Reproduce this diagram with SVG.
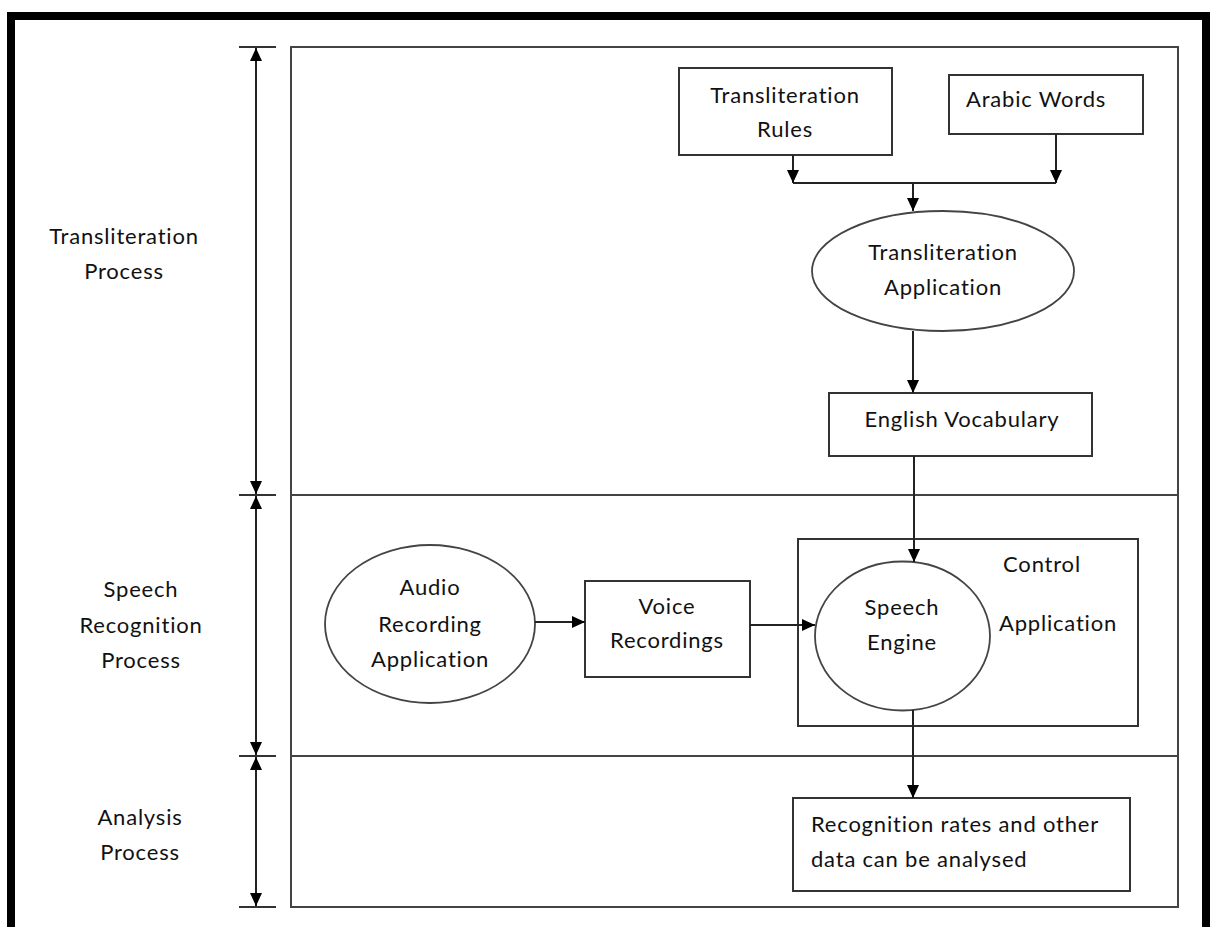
<svg xmlns="http://www.w3.org/2000/svg" width="1210" height="927" viewBox="0 0 1210 927">
  <style>
    .frame { fill: none; stroke: #000; stroke-width: 8; }
    .panel { fill: none; stroke: #444; stroke-width: 2; }
    .box { fill: #fff; stroke: #333; stroke-width: 2; }
    .oval { fill: #fff; stroke: #444; stroke-width: 1.8; }
    .line { fill: none; stroke: #222; stroke-width: 2; }
    .tick { fill: none; stroke: #333; stroke-width: 2; }
    text { font-family: Lato, "Open Sans", "Liberation Sans", sans-serif; font-size: 22px; letter-spacing: 0.8px; fill: #111; font-variant-ligatures: none; font-feature-settings: "liga" 0, "clig" 0; }
    .c { text-anchor: middle; }
  </style>
  <defs>
    <marker id="arrow" viewBox="0 0 13 12" refX="13" refY="6" markerWidth="13" markerHeight="12" markerUnits="userSpaceOnUse" orient="auto-start-reverse">
      <path d="M0,0 L13,6 L0,12 z" fill="#000"/>
    </marker>
  </defs>

  <rect width="1210" height="927" fill="#fff"/>
  <!-- outer frame (open at bottom) -->
  <path class="frame" d="M11,927 V16 H1206 V927"/>

  <!-- process panel and stage separators -->
  <rect class="panel" x="291" y="47" width="887" height="860"/>
  <line class="panel" x1="291" y1="495" x2="1178" y2="495"/>
  <line class="panel" x1="291" y1="756" x2="1178" y2="756"/>

  <!-- stage extent ruler -->
  <g id="stage-ruler">
    <line class="tick" x1="239" y1="47" x2="276" y2="47"/>
    <line class="tick" x1="239" y1="495" x2="276" y2="495"/>
    <line class="tick" x1="239" y1="756" x2="276" y2="756"/>
    <line class="tick" x1="239" y1="907" x2="276" y2="907"/>
    <line class="line" x1="256" y1="48" x2="256" y2="494" marker-start="url(#arrow)" marker-end="url(#arrow)"/>
    <line class="line" x1="256" y1="496" x2="256" y2="755" marker-start="url(#arrow)" marker-end="url(#arrow)"/>
    <line class="line" x1="256" y1="757" x2="256" y2="906" marker-start="url(#arrow)" marker-end="url(#arrow)"/>
  </g>

  <!-- stage labels -->
  <g id="label-transliteration">
    <text class="c" x="124" y="244">Transliteration</text>
    <text class="c" x="124" y="279">Process</text>
  </g>
  <g id="label-speech">
    <text class="c" x="141" y="597">Speech</text>
    <text class="c" x="141" y="633">Recognition</text>
    <text class="c" x="141" y="668">Process</text>
  </g>
  <g id="label-analysis">
    <text class="c" x="140" y="825">Analysis</text>
    <text class="c" x="140" y="860">Process</text>
  </g>

  <g id="transliteration-rules">
    <rect class="box" x="679" y="68" width="213" height="87"/>
    <text class="c" x="785" y="103">Transliteration</text>
    <text class="c" x="785" y="137">Rules</text>
  </g>
  <g id="arabic-words">
    <rect class="box" x="949" y="75" width="194" height="59"/>
    <text x="966" y="107">Arabic Words</text>
  </g>
  <g id="transliteration-application">
    <ellipse class="oval" cx="943" cy="271" rx="131" ry="60"/>
    <text class="c" x="943" y="260">Transliteration</text>
    <text class="c" x="943" y="295">Application</text>
  </g>
  <g id="english-vocabulary">
    <rect class="box" x="829" y="393" width="263" height="63"/>
    <text class="c" x="962" y="427">English Vocabulary</text>
  </g>

  <g id="control-application">
    <rect class="box" x="798" y="539" width="340" height="187"/>
    <text class="c" x="1042" y="572">Control</text>
    <text class="c" x="1058" y="631">Application</text>
  </g>
  <g id="speech-engine">
    <ellipse class="oval" cx="902.5" cy="636" rx="87.5" ry="74.5"/>
    <text class="c" x="902" y="615">Speech</text>
    <text class="c" x="902" y="650">Engine</text>
  </g>
  <g id="audio-recording-application">
    <ellipse class="oval" cx="430" cy="624" rx="105" ry="79"/>
    <text class="c" x="430" y="595">Audio</text>
    <text class="c" x="430" y="632">Recording</text>
    <text class="c" x="430" y="667">Application</text>
  </g>
  <g id="voice-recordings">
    <rect class="box" x="585" y="581" width="165" height="96"/>
    <text class="c" x="667" y="614">Voice</text>
    <text class="c" x="667" y="648">Recordings</text>
  </g>

  <g id="analysis-output">
    <rect class="box" x="793" y="798" width="337" height="93"/>
    <text x="811" y="832">Recognition rates and other</text>
    <text x="811" y="867">data can be analysed</text>
  </g>

  <!-- connectors, drawn over the node fills -->
  <g id="connectors">
    <path class="line" d="M793,155 V183" marker-end="url(#arrow)"/>
    <path class="line" d="M1056,134 V183" marker-end="url(#arrow)"/>
    <path class="line" d="M793,183 H1056"/>
    <path class="line" d="M913,183 V211" marker-end="url(#arrow)"/>
    <path class="line" d="M913,331 V393" marker-end="url(#arrow)"/>
    <path class="line" d="M914,456 V562" marker-end="url(#arrow)"/>
    <path class="line" d="M535,622 H585" marker-end="url(#arrow)"/>
    <path class="line" d="M750,625 H815" marker-end="url(#arrow)"/>
    <path class="line" d="M913,710 V798" marker-end="url(#arrow)"/>
  </g>
</svg>
